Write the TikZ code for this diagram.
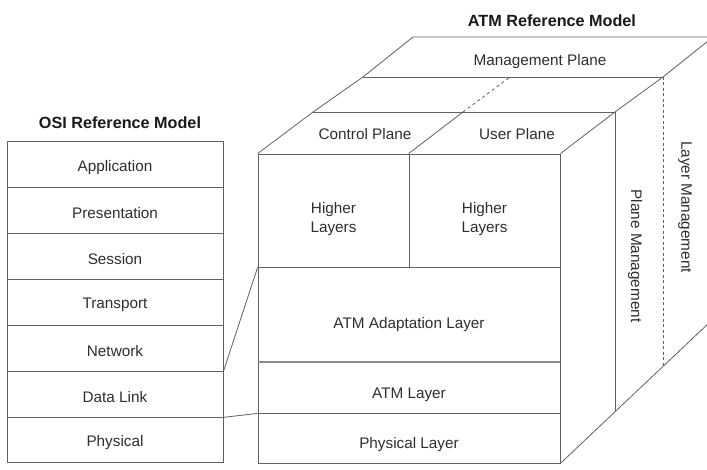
\documentclass[tikz,border=0pt]{standalone}
\usepackage{fontspec}
\setmainfont{Liberation Sans}
\begin{document}
\begin{tikzpicture}[x=1pt,y=-1pt,
  ln/.style={draw=black!62, line width=0.8pt},
  txt/.style={font=\fontsize{15.3}{19}\selectfont, text=black!82, align=center},
  box/.style={ln, rectangle, inner sep=0pt},
  ttl/.style={font=\bfseries\fontsize{16.2}{18}\selectfont, text=black!90},
  osibox/.style={box, minimum width=216pt, minimum height=45.9pt},
  atmbox/.style={box, minimum width=302pt},
  ositext/.style={label={[txt, yshift=-3pt]center:#1}},
  atmtext/.style 2 args={label={[txt, yshift=-#1]center:#2}}]
\useasboundingbox (0,0) rectangle (707,470);
\clip (0,0) rectangle (707,470);

% OSI stack
\node[ttl] (osititle) at (120,123) {OSI Reference Model};
\node[osibox, ositext=Application] (app) at (115,164.5) {};
\node[osibox, ositext=Presentation] (pres) at (115,210.4) {};
\node[osibox, ositext=Session] (sess) at (115,256.3) {};
\node[osibox, ositext=Transport] (trans) at (115,302.2) {};
\node[osibox, ositext=Network] (net) at (115,348.1) {};
\node[osibox, ositext=Data Link] (dl) at (115,394.0) {};
\node[osibox, ositext=Physical] (phys) at (115,439.9) {};

% ATM front
\node[ttl] (atmtitle) at (552,20.5) {ATM Reference Model};
\node[box, minimum width=151pt, minimum height=113pt, atmtext={9pt}{Higher\\Layers}] (hlL) at (333.5,210.5) {};
\node[box, minimum width=151pt, minimum height=113pt, atmtext={9pt}{Higher\\Layers}] (hlR) at (484.5,210.5) {};
\node[atmbox, minimum height=95pt, atmtext={10pt}{ATM Adaptation Layer}] (aal) at (409,314.5) {};
\node[atmbox, minimum height=51pt, atmtext={7pt}{ATM Layer}] (atml) at (409,387.5) {};
\node[atmbox, minimum height=50pt, atmtext={6.5pt}{Physical Layer}] (phyl) at (409,438) {};
\draw[draw=black!45, line width=1.8pt] (aal.south west) -- (aal.south east);

% top faces
\coordinate (B1) at (313,112); \coordinate (B2) at (463,112); \coordinate (B3) at (615,112);
\coordinate (C1) at (363,77);  \coordinate (C2) at (510,77);  \coordinate (C3) at (663,77);
\coordinate (D1) at (413,37);  \coordinate (D3) at (713,37);
\coordinate (E3) at (615,411.4); \coordinate (G3) at (663,366.3); \coordinate (H3) at (720,312.5);

\draw[ln] (hlL.north west) -- (B1) -- (C1) -- (D1) -- (D3);
\draw[ln] (hlR.north west) -- (B2);
\draw[ln] (hlR.north east) -- (B3) -- (C3) -- (D3);
\draw[ln] (B1) -- (B3);
\draw[ln] (C1) -- (C3);
\draw[ln, dashed, dash pattern=on 3pt off 3pt] (B2) -- (C2);

% side faces
\draw[ln] (B3) -- (E3);
\draw[ln, dash pattern=on 3pt off 2.5pt] (C3) -- (G3);
\draw[ln] (phyl.south east) -- (H3);

% labels on faces
\node[txt] (mp) at (540,62) {Management Plane};
\node[txt] (cp) at (365,134) {Control Plane};
\node[txt] (up) at (517,134) {User Plane};
\node[txt, rotate=-90] (pm) at (635,256) {Plane Management};
\node[txt, rotate=-90] (lm) at (685,207) {Layer Management};

% connectors
\draw[ln] (net.south east) -- (hlL.south west);
\draw[ln] (dl.south east) -- (atml.south west);
\end{tikzpicture}
\end{document}
